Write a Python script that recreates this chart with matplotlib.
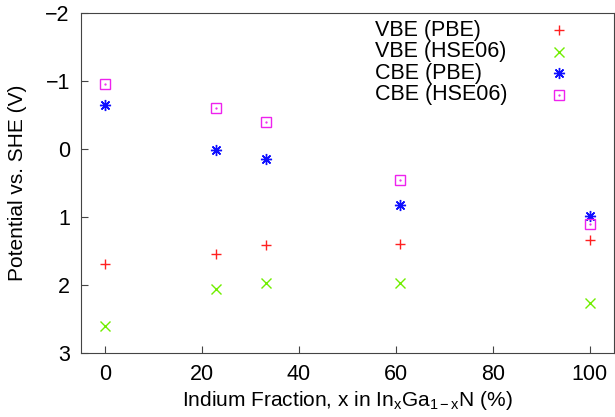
import matplotlib.pyplot as plt

plt.rcParams["font.family"] = ["Liberation Sans", "DejaVu Sans"]
plt.rcParams["mathtext.fontset"] = "custom"
plt.rcParams["mathtext.rm"] = "Liberation Sans"
plt.rcParams["mathtext.it"] = "Liberation Sans"

# indium fraction (%)
indium = [0, 22.9, 33.2, 60.8, 100]

# band edge potentials vs SHE (V)
vbe_pbe = [1.69, 1.55, 1.41, 1.40, 1.34]
vbe_hse = [2.60, 2.06, 1.97, 1.97, 2.26]
cbe_pbe = [-0.65, 0.02, 0.15, 0.82, 0.98]
cbe_hse = [-0.96, -0.60, -0.39, 0.45, 1.11]

labels = ["VBE (PBE)", "VBE (HSE06)", "CBE (PBE)", "CBE (HSE06)"]
series = [vbe_pbe, vbe_hse, cbe_pbe, cbe_hse]
colors = ["#ff2020", "#70ee00", "#1010ff", "#ee22ee"]
markers = ["+", "x", (8, 2, 0), "s"]
sizes = [7, 7, 8, 6.5]

fig = plt.figure(figsize=(6.15, 4.17), dpi=100)
ax = fig.add_axes([0.1317, 0.1535, 0.8663, 0.8153])

for vals, c, m, s in zip(series, colors, markers, sizes):
    ax.plot(indium, vals, ls="none", marker=m, ms=s, mew=1, mfc="none", color=c)
# little centre dot of the gnuplot square
ax.plot(indium, cbe_hse, ls="none", marker=".", ms=1.2, color=colors[3])

ax.set_xlim(-5, 105)
ax.set_ylim(3, -2)
ax.set_xticks([0, 20, 40, 60, 80, 100])
ax.set_yticks([-2, -1, 0, 1, 2, 3])
ax.tick_params(direction="in", length=5, labelsize=15.5, pad=8, color="#444444")
for sp in ax.spines.values():
    sp.set_color("#444444")

ax.set_xlabel(r"Indium Fraction, x in In$_\mathregular{x}$Ga$_\mathregular{1-x}$N (%)", fontsize=15, labelpad=3)
ax.set_ylabel("Potential vs. SHE (V)", fontsize=15, labelpad=13)

# gnuplot style key: text left aligned, symbol at the right
for i, (lab, c, m, s) in enumerate(zip(labels, colors, markers, sizes)):
    yk = 0.95 - i * 0.0637
    ax.text(0.5516, yk, lab, transform=ax.transAxes, fontsize=15.5, va="center", ha="left")
    ax.plot([0.897], [yk], transform=ax.transAxes, ls="none", marker=m, ms=s,
            mew=1, mfc="none", color=c, clip_on=False)
    if i == 3:
        ax.plot([0.897], [yk], transform=ax.transAxes, ls="none", marker=".", ms=1.2, color=c)

fig.savefig("out.png", dpi=100)
